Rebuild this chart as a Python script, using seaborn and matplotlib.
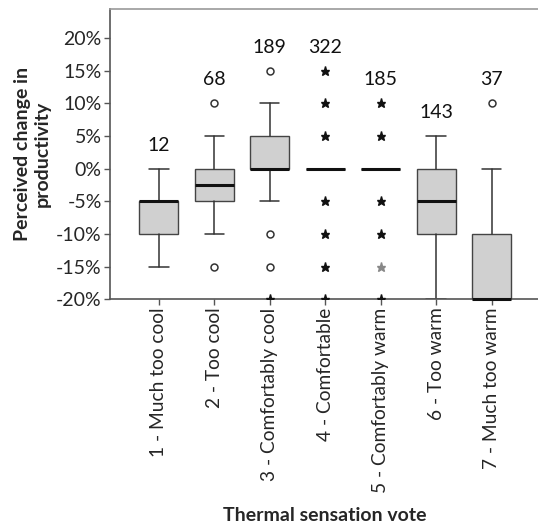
import matplotlib
matplotlib.use("Agg")
import matplotlib.pyplot as plt
import seaborn as sns

categories = ['1 - Much too cool', '2 - Too cool', '3 - Comfortably cool',
              '4 - Comfortable', '5 - Comfortably warm', '6 - Too warm',
              '7 - Much too warm']
counts = [12, 68, 189, 322, 185, 143, 37]

# box statistics, % change
whis_lo = [-15, -10, -5, 0, 0, -20, -20]
q1 = [-10, -5, 0, 0, 0, -10, -20]
med = [-5, -2.5, 0, 0, 0, -5, -20]
q3 = [-5, 0, 5, 0, 0, 0, -10]
whis_hi = [0, 5, 10, 0, 0, 5, 0]

# outliers (circles) and extremes (stars)
circles = [[], [10, -15], [15, -10, -15], [], [], [], [10]]
stars = [[], [], [-20], [15, 10, 5, -5, -10, -15, -20],
         [10, 5, -5, -10, -20], [], []]
stars_light = [[], [], [], [], [-15], [], []]

sns.set_style("white")
plt.rcParams['font.family'] = ['Lato', 'DejaVu Sans']

fig = plt.figure(figsize=(5.38, 5.23), dpi=100)
ax = fig.add_axes([0.2045, 0.428, 0.80, 0.555])

stats = []
for i in range(len(categories)):
    stats.append(dict(whislo=whis_lo[i], q1=q1[i], med=med[i], q3=q3[i],
                      whishi=whis_hi[i], fliers=[], label=categories[i]))

pos = list(range(len(categories)))
parts = ax.bxp(stats, positions=pos, widths=0.7, patch_artist=True,
               showfliers=False,
               boxprops=dict(facecolor='#d0d0d0', edgecolor='#444444', linewidth=1.0),
               medianprops=dict(color='#111111', linewidth=2.2),
               whiskerprops=dict(color='#333333', linewidth=1.1),
               capprops=dict(color='#333333', linewidth=1.1))
for m in parts['medians']:
    m.set_clip_on(False)
    m.set_zorder(5)

for i in pos:
    if circles[i]:
        ax.plot([i] * len(circles[i]), circles[i], 'o', ms=5, mfc='white',
                mec='#333333', mew=1.1, zorder=4)
    if stars[i]:
        ax.plot([i] * len(stars[i]), stars[i], '*', ms=6.5, color='#111111',
                zorder=4)
    if stars_light[i]:
        ax.plot([i] * len(stars_light[i]), stars_light[i], '*', ms=6.5,
                color='#888888', zorder=4)
    top = max([whis_hi[i]] + circles[i] + stars[i])
    ax.text(i, top + 2.3, str(counts[i]), ha='center', va='bottom',
            fontsize=14, color='#111111')

ax.set_xlim(-0.88, 6.88)
ax.set_ylim(-20, 24.5)
ax.set_yticks(range(-20, 21, 5))
ax.set_yticklabels([f'{v}%' for v in range(-20, 21, 5)], fontsize=14)
ax.set_xticks(pos)
ax.set_xticklabels(categories, rotation=90, fontsize=13.8)
ax.tick_params(axis='both', which='both', direction='out', length=4,
               width=1, color='#555555', left=True, bottom=True, pad=2)

ax.spines['right'].set_visible(False)
ax.spines['left'].set_color('#555555')
ax.spines['bottom'].set_color('#555555')
ax.spines['top'].set_color('#999999')
for s in ['left', 'bottom', 'top']:
    ax.spines[s].set_linewidth(1.2)

ax.set_ylabel('Perceived change in\nproductivity', fontsize=14,
              fontweight='bold', labelpad=4)
ax.set_xlabel('Thermal sensation vote', fontsize=14, fontweight='bold',
              labelpad=10)

fig.savefig('out.png', dpi=100)
